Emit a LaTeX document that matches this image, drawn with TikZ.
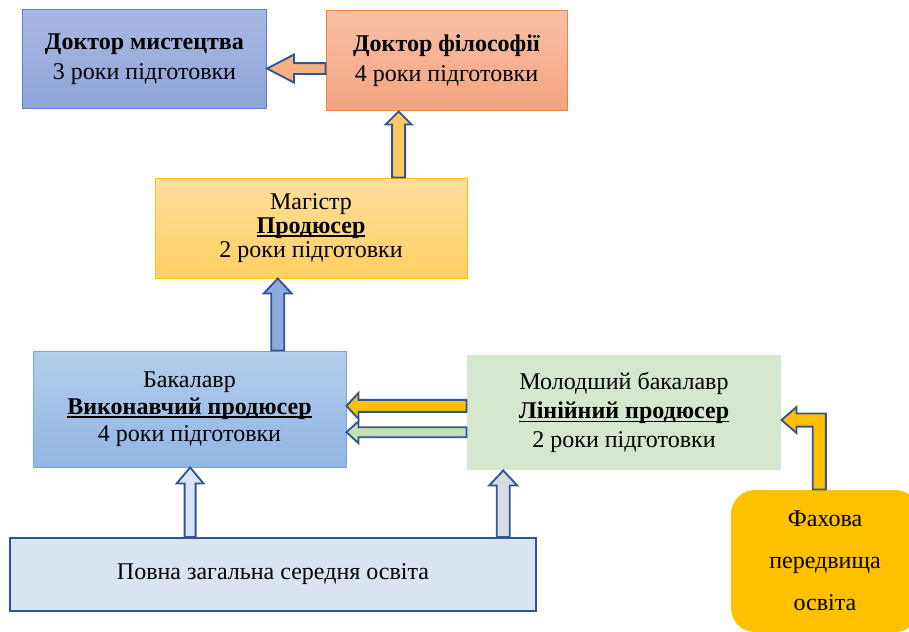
\documentclass[tikz,border=0pt]{standalone}
\usepackage{fontspec}
\setmainfont{Liberation Serif}
\usetikzlibrary{calc}
\definecolor{ArtTop}{HTML}{A8B8E2}
\definecolor{ArtBottom}{HTML}{8EA5D9}
\definecolor{ArtEdge}{HTML}{5A80CC}
\definecolor{PhdTop}{HTML}{F8C0A6}
\definecolor{PhdBottom}{HTML}{F4A37E}
\definecolor{PhdEdge}{HTML}{EE8444}
\definecolor{MagTop}{HTML}{FFDE9E}
\definecolor{MagBottom}{HTML}{FFCF63}
\definecolor{MagEdge}{HTML}{FFC000}
\definecolor{BachTop}{HTML}{B3CDEB}
\definecolor{BachBottom}{HTML}{93B5E2}
\definecolor{BachEdge}{HTML}{74A5DC}
\definecolor{JBachFill}{HTML}{D5E7CC}
\definecolor{SchoolFill}{HTML}{DAE3F3}
\definecolor{EdgeBlue}{HTML}{2F5597}
\definecolor{ProfFill}{HTML}{FFC000}
\definecolor{ArrowPeach}{HTML}{F4B183}
\definecolor{ArrowGold}{HTML}{FFC95E}
\definecolor{ArrowBlue}{HTML}{8FAADC}
\definecolor{ArrowAmber}{HTML}{FFC000}
\definecolor{ArrowGreen}{HTML}{C5E0B4}
\definecolor{ArrowPale}{HTML}{DAE3F3}
\definecolor{ArrowGrey}{HTML}{D6DCE5}

% bold text with an underline
\newcommand{\ulbf}[1]{\leavevmode\setbox0\hbox{\textbf{#1}}\rlap{\rule[-2.8pt]{\wd0}{1.3pt}}\box0}

% block arrow: fill, start, tip, shaft half width, head half width, head length
\newcommand{\blockarrow}[6]{%
  \coordinate (ba-s) at (#2);
  \coordinate (ba-e) at (#3);
  \coordinate (ba-h) at ($(ba-e)!#6!(ba-s)$);
  \draw[arrowbody, fill=#1]
    ($(ba-s)!#4!90:(ba-e)$) -- ($(ba-h)!#4!90:(ba-e)$) -- ($(ba-h)!#5!90:(ba-e)$)
    -- (ba-e)
    -- ($(ba-h)!#5!-90:(ba-e)$) -- ($(ba-h)!#4!-90:(ba-e)$) -- ($(ba-s)!#4!-90:(ba-e)$) -- cycle;
}

\begin{document}
\begin{tikzpicture}[
    x=0.75pt,
    y=-0.75pt,
    font=\fontsize{18}{22.5}\selectfont,
    level/.style={rectangle, align=center, inner sep=0pt, line width=0.75pt},
    arrowbody/.style={draw=EdgeBlue, line width=1.4pt, line join=miter}
]
\useasboundingbox (0,0) rectangle (909,631);
\clip (0,0) rectangle (909,631);

% Doctoral level
\node[level, minimum width=183pt, minimum height=74.25pt,
      top color=ArtTop, bottom color=ArtBottom, draw=ArtEdge] (art) at (144.5,59.5)
  {\textbf{Доктор мистецтва}\\3 роки підготовки};
\node[level, minimum width=180.75pt, minimum height=75pt,
      top color=PhdTop, bottom color=PhdBottom, draw=PhdEdge] (phd) at (446.5,61)
  {\textbf{Доктор філософії}\\4 роки підготовки};

% Master level
\node[level, minimum width=234pt, minimum height=75pt,
      top color=MagTop, bottom color=MagBottom, draw=MagEdge,
      font=\fontsize{18}{17.8}\selectfont] (mag) at (311,228)
  {Магістр\\\ulbf{Продюсер}\\2 роки підготовки};

% Bachelor levels
\node[level, minimum width=234.75pt, minimum height=87pt,
      top color=BachTop, bottom color=BachBottom, draw=BachEdge,
      font=\fontsize{18}{20.25}\selectfont] (bach) at (189.5,409)
  {Бакалавр\\\ulbf{Виконавчий продюсер}\\4 роки підготовки};
\node[level, minimum width=235.5pt, minimum height=86.25pt,
      fill=JBachFill, font=\fontsize{18}{21.75}\selectfont] (jbach) at (624,412.5)
  {Молодший бакалавр\\\ulbf{Лінійний продюсер}\\2 роки підготовки};

% Entry levels
\node[level, minimum width=394.5pt, minimum height=54.75pt,
      fill=SchoolFill, draw=EdgeBlue, line width=1.5pt] (school) at (273,574.5)
  {Повна загальна середня освіта};
\node[level, minimum width=141pt, minimum height=106.5pt, rounded corners=18pt,
      fill=ProfFill, font=\fontsize{18}{31.5}\selectfont] (prof) at (825,561)
  {Фахова\\передвища\\освіта};

% Upward and sideways arrows
\coordinate (phd-w) at ($(phd.north west)!0.575!(phd.south west)$);
\blockarrow{ArrowPeach}{phd-w}{phd-w -| art.east}{4.1pt}{10.5pt}{20.25pt}

\coordinate (mag-n) at ($(mag.north west)!0.78!(mag.north east)$);
\blockarrow{ArrowGold}{mag-n}{mag-n |- phd.south}{4.9pt}{9.75pt}{9.75pt}

\coordinate (bach-n) at ($(bach.north west)!0.781!(bach.north east)$);
\blockarrow{ArrowBlue}{bach-n}{bach-n |- mag.south}{4.9pt}{10.5pt}{11.25pt}

\foreach \f/\col/\sw/\hw in {0.443/ArrowAmber/4.5pt/9.75pt, 0.67/ArrowGreen/3.75pt/8.25pt}{
  \coordinate (jbach-w) at ($(jbach.north west)!\f!(jbach.south west)$);
  \blockarrow{\col}{jbach-w}{jbach-w -| bach.east}{\sw}{\hw}{9pt}
}

\coordinate (school-l) at ($(school.north west)!0.343!(school.north east)$);
\blockarrow{ArrowPale}{school-l}{school-l |- bach.south}{4.1pt}{10.1pt}{12pt}

\coordinate (school-r) at ($(school.north west)!0.936!(school.north east)$);
\blockarrow{ArrowGrey}{school-r}{school-r |- jbach.south}{4.9pt}{10.5pt}{11.25pt}

% Bent arrow from professional pre-higher education
\coordinate (prof-n) at ($(prof.north west)!0.47!(prof.north east)$);
\coordinate (jbach-e) at ($(jbach.north east)!0.565!(jbach.south east)$);
\coordinate (bend) at (prof-n |- jbach-e);
\draw[arrowbody, fill=ArrowAmber]
  ([xshift=-4.9pt]prof-n) -- ([xshift=-4.9pt, yshift=-4.9pt]bend)
  -- ([xshift=11.25pt, yshift=-4.9pt]jbach-e) -- ([xshift=11.25pt, yshift=-9.75pt]jbach-e)
  -- (jbach-e)
  -- ([xshift=11.25pt, yshift=9.75pt]jbach-e) -- ([xshift=11.25pt, yshift=4.9pt]jbach-e)
  -- ([xshift=4.9pt, yshift=4.9pt]bend) -- ([xshift=4.9pt]prof-n) -- cycle;

\end{tikzpicture}
\end{document}
